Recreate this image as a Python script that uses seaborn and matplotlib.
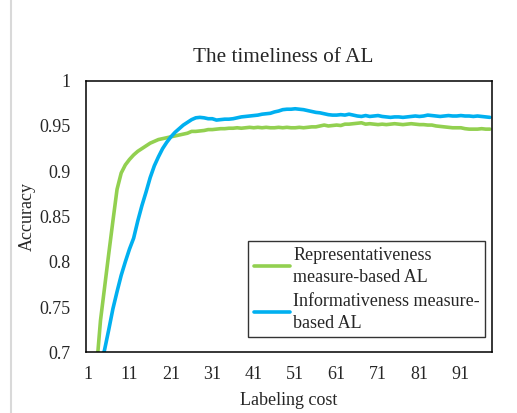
import numpy as np
import pandas as pd
import matplotlib.pyplot as plt
from matplotlib.lines import Line2D
import seaborn as sns

# Data
labeling_cost = list(range(1, 99))

representativeness = [
    0.55, 0.62, 0.68, 0.735, 0.772, 0.809, 0.845, 0.880, 0.898, 0.907,
    0.913, 0.918, 0.922, 0.925, 0.928, 0.931, 0.933, 0.935, 0.936, 0.937,
    0.938, 0.939, 0.940, 0.941, 0.942, 0.944, 0.944, 0.9445, 0.945, 0.946,
    0.946, 0.9465, 0.947, 0.947, 0.9475, 0.9475, 0.948, 0.9475, 0.948, 0.9485,
    0.948, 0.9485, 0.948, 0.9485, 0.948, 0.948, 0.9485, 0.948, 0.9485, 0.948,
    0.948, 0.9485, 0.948, 0.9485, 0.949, 0.949, 0.950, 0.951, 0.950, 0.9505,
    0.951, 0.9505, 0.952, 0.952, 0.9525, 0.953, 0.9535, 0.952, 0.9525, 0.952,
    0.9515, 0.952, 0.9515, 0.952, 0.9525, 0.952, 0.9515, 0.952, 0.9525, 0.952,
    0.9515, 0.9515, 0.951, 0.951, 0.950, 0.9495, 0.949, 0.9485, 0.948, 0.948,
    0.948, 0.947, 0.9465, 0.9465, 0.9465, 0.947, 0.9465, 0.9465,
]

informativeness = [
    0.60, 0.64, 0.665, 0.685, 0.703, 0.725, 0.748, 0.767, 0.785, 0.800,
    0.814, 0.826, 0.845, 0.862, 0.877, 0.893, 0.906, 0.916, 0.925, 0.932,
    0.938, 0.943, 0.947, 0.951, 0.954, 0.957, 0.959, 0.9595, 0.959, 0.958,
    0.958, 0.9565, 0.957, 0.9575, 0.9575, 0.958, 0.959, 0.960, 0.9605, 0.961,
    0.9615, 0.962, 0.963, 0.9635, 0.964, 0.9655, 0.9665, 0.968, 0.9685, 0.9685,
    0.969, 0.9685, 0.968, 0.967, 0.966, 0.965, 0.9645, 0.9635, 0.9625, 0.962,
    0.962, 0.9625, 0.962, 0.963, 0.962, 0.961, 0.9605, 0.9615, 0.9605, 0.961,
    0.9615, 0.9605, 0.960, 0.9595, 0.960, 0.960, 0.9595, 0.960, 0.9605, 0.961,
    0.9605, 0.961, 0.962, 0.9615, 0.961, 0.9605, 0.961, 0.9615, 0.961, 0.961,
    0.9615, 0.961, 0.961, 0.9605, 0.961, 0.9605, 0.960, 0.9595,
]

series_names = ["Representativeness\nmeasure-based AL",
                "Informativeness measure-\nbased AL"]
colors = ["#92D050", "#00B0F0"]

x_ticks = list(range(1, 92, 10))
y_ticks = [0.7, 0.75, 0.8, 0.85, 0.9, 0.95, 1.0]
y_tick_labels = ["0.7", "0.75", "0.8", "0.85", "0.9", "0.95", "1"]

df = pd.DataFrame({
    "Labeling cost": labeling_cost * 2,
    "Accuracy": representativeness + informativeness,
    "Method": [series_names[0]] * len(labeling_cost) + [series_names[1]] * len(labeling_cost),
})

sns.set_style("white")
plt.rcParams['font.family'] = ['Liberation Serif', 'DejaVu Serif']

fig = plt.figure(figsize=(5.17, 4.13), dpi=100)
ax = fig.add_axes([0.1663, 0.147, 0.7853, 0.6576])

sns.lineplot(data=df, x="Labeling cost", y="Accuracy", hue="Method",
             palette=colors, linewidth=2.6, ax=ax)

ax.set_xlim(0.5, 98.5)
ax.set_ylim(0.7, 1.0)
ax.set_xticks(x_ticks)
ax.set_xticklabels([str(t) for t in x_ticks], fontsize=13)
ax.set_yticks(y_ticks)
ax.set_yticklabels(y_tick_labels, fontsize=13)
ax.tick_params(axis='both', length=0)
ax.tick_params(axis='x', pad=10)
ax.tick_params(axis='y', pad=11)
ax.set_xlabel("Labeling cost", fontsize=13)
ax.set_ylabel("Accuracy", fontsize=13)
ax.xaxis.set_label_coords(0.5, -0.146)
ax.yaxis.set_label_coords(-0.123, 0.5)
ax.set_title("The timeliness of AL", fontsize=15.3, pad=13.7, x=0.485)

for s in ax.spines.values():
    s.set_color("black")
    s.set_linewidth(1.1)

leg = ax.legend(loc="lower right", bbox_to_anchor=(0.983, 0.056), fontsize=13,
                frameon=True, fancybox=False, handlelength=2.0, handletextpad=0.18,
                labelspacing=0.4, borderpad=0.3, borderaxespad=0)
leg.get_frame().set_edgecolor("black")
leg.get_frame().set_linewidth(1.0)
for t in leg.get_texts():
    t.set_linespacing(1.37)
for h in leg.get_lines():
    h.set_linewidth(2.6)

# light frame edge on the left of the picture
fig.add_artist(Line2D([11 / 517, 11 / 517], [0, 1], color="#d9d9d9", lw=1.5))

fig.savefig("out.png", dpi=100)
